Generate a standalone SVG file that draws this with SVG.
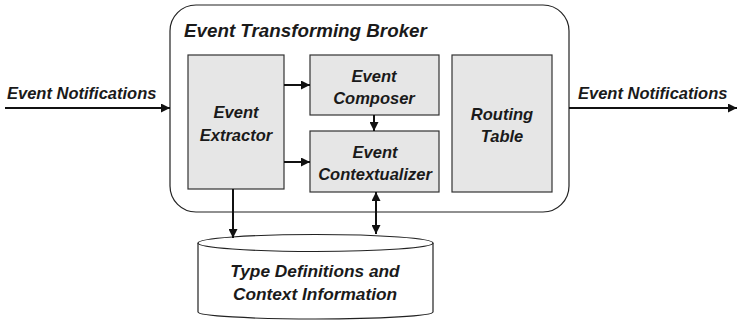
<svg xmlns="http://www.w3.org/2000/svg" width="737" height="321" viewBox="0 0 737 321">
<style>
text{font-family:"Liberation Sans",Arial,sans-serif;font-weight:bold;font-style:italic;font-size:16.5px;fill:#1a1a1a;}
.t{text-anchor:middle;}
.box{fill:#e6e6e6;stroke:#333;stroke-width:1.2;}
.edge{stroke:#111;stroke-width:2;fill:none;}
</style>
<defs>
<marker id="ah" viewBox="0 0 10 10" refX="10" refY="5" markerWidth="10" markerHeight="9" markerUnits="userSpaceOnUse" orient="auto-start-reverse">
<path d="M0,0 L10,5 L0,10 Z" fill="#111"/>
</marker>
</defs>
<g id="broker">
<rect x="170" y="5" width="399" height="207" rx="26" ry="26" fill="#fff" stroke="#222" stroke-width="1.2"/>
<text x="184" y="37" style="font-size:18.8px">Event Transforming Broker</text>
</g>
<g id="extractor">
<rect class="box" x="188" y="55" width="96" height="134"/>
<text class="t" x="236" y="118">Event</text>
<text class="t" x="236" y="141">Extractor</text>
</g>
<g id="composer">
<rect class="box" x="310" y="55" width="129" height="60"/>
<text class="t" x="374" y="82">Event</text>
<text class="t" x="374" y="104">Composer</text>
</g>
<g id="contextualizer">
<rect class="box" x="310" y="131" width="129" height="61"/>
<text class="t" x="375" y="158">Event</text>
<text class="t" x="375" y="180">Contextualizer</text>
</g>
<g id="routing">
<rect class="box" x="452" y="55" width="100" height="137"/>
<text class="t" x="502" y="120">Routing</text>
<text class="t" x="502" y="142">Table</text>
</g>
<g id="store">
<path d="M198,243 L198,312 A117.5,7 0 0 0 433,312 L433,243" fill="#fff" stroke="#222" stroke-width="1.2"/>
<ellipse cx="315.5" cy="243" rx="117.5" ry="8.5" fill="#fff" stroke="#222" stroke-width="1.2"/>
<text class="t" x="315" y="277" style="font-size:17.3px">Type Definitions and</text>
<text class="t" x="315" y="300" style="font-size:17.3px">Context Information</text>
</g>
<g id="labels">
<text x="7" y="99">Event Notifications</text>
<text x="578" y="99">Event Notifications</text>
</g>
<g id="connectors">
<line class="edge" x1="5" y1="108" x2="170" y2="108" marker-end="url(#ah)"/>
<line class="edge" x1="569" y1="108" x2="737" y2="108" marker-end="url(#ah)"/>
<line class="edge" x1="284" y1="85" x2="310" y2="85" marker-end="url(#ah)"/>
<line class="edge" x1="284" y1="162" x2="310" y2="162" marker-end="url(#ah)"/>
<line class="edge" x1="374" y1="115" x2="374" y2="131" marker-end="url(#ah)"/>
<line class="edge" x1="233" y1="189" x2="233" y2="238" marker-end="url(#ah)"/>
<line class="edge" x1="376" y1="192" x2="376" y2="234" marker-start="url(#ah)" marker-end="url(#ah)"/>
</g>
</svg>
